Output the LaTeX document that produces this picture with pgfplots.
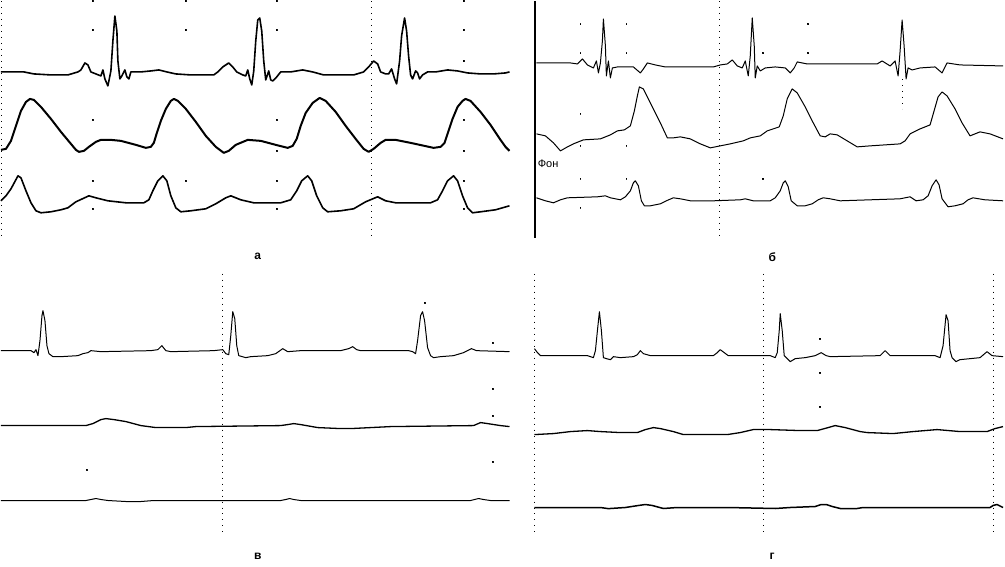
\documentclass[border=0pt]{standalone}
\usepackage{pgfplots}
\pgfplotsset{compat=1.18}
\usepackage{fontspec}
\setmainfont{Liberation Sans}
\begin{document}
\begin{tikzpicture}
\begin{axis}[
    width=502.5pt,
    height=281.5pt,
    scale only axis,
    xmin=0, xmax=1005,
    ymin=0, ymax=563,
    y dir=reverse,
    hide axis,
    clip=false,
    every axis plot/.append style={black, line join=round},
]

% grid (dotted verticals)
\pgfplotsset{gr/.style={black, line width=0.5pt, dash pattern=on 0.5pt off 2.5pt}}
\addplot[gr] coordinates {(1,0) (1,237)};
\addplot[gr] coordinates {(371,0) (371,237)};
\addplot[gr] coordinates {(719,0) (719,237)};
\addplot[gr] coordinates {(902,78) (902,108)};
\addplot[gr] coordinates {(222,273) (222,535)};
\addplot[gr] coordinates {(534,273) (534,535)};
\addplot[gr] coordinates {(763,273) (763,535)};
\addplot[gr] coordinates {(993,273) (993,535)};

% isolated grid dots
\addplot[only marks, mark=square*, mark size=0.22pt] coordinates {
    (92,0) (92,29) (92,119) (92,180) (92,208)
    (185,0) (185,29) (185,180)
    (276,0) (276,29) (276,119) (276,150) (276,180) (276,208)
    (463,0) (463,29) (463,60) (463,119) (463,150) (463,180) (463,208)
    (580,23) (580,52) (580,113) (580,145) (580,178) (580,207)
    (626,23) (626,52) (626,145) (626,178)
    (763,52) (763,178) (808,23) (808,52)
    (86,469) (424,302) (492,342) (492,388) (492,415) (492,461)
    (820,338) (820,372) (820,406)
};

% solid marker line, panel b
\addplot[line width=1pt] coordinates {(535,0) (535,237)};

% ---------- panel a ----------
\addplot[line width=0.8pt] coordinates {
(0,71) (10,71) (23,71) (33,73) (50,74) (67,74) (77,71) (80,69) (84,62) (87,64) (90,71) (95,73) (100,75) (102,69) (104,78) (107,85) (110,70) (112,40) (114,15) (116,30) (117,60) (119,78) (121,75) (124,69) (126,76) (128,78) (130,71) (140,71) (150,70) (158,69) (166,71) (175,73) (190,74) (213,74) (217,71) (222,66) (228,62) (232,66) (236,71) (242,74) (245,75) (247,69) (249,78) (251,84) (253,70) (255,40) (257,19) (259,17) (261,30) (263,60) (265,79) (268,70) (270,79) (272,80) (276,76) (280,71) (290,71) (302,69) (312,71) (323,74) (353,74) (363,71) (368,66) (373,60) (377,63) (380,71) (385,73) (388,73) (391,68) (394,78) (396,83) (399,60) (401,35) (404,17) (406,30) (408,55) (410,74) (412,78) (415,70) (417,72) (419,78) (422,74) (427,71) (435,71) (447,69) (457,70) (467,72) (480,73) (493,73) (505,72) (509,71)
};
\addplot[line width=1pt] coordinates {
(0,149) (5,148) (10,140) (15,125) (20,110) (25,101) (29,98) (33,99) (40,106) (50,118) (60,131) (70,143) (75,149) (78,151) (83,150) (88,146) (95,141) (100,139) (110,139) (120,140) (135,144) (145,147) (150,146) (153,142) (156,132) (160,120) (165,108) (170,100) (173,98) (177,100) (185,108) (195,121) (205,135) (215,146) (223,152) (228,150) (235,144) (247,139) (260,140) (275,144) (287,147) (292,145) (296,138) (300,125) (305,112) (312,102) (319,97) (325,100) (335,111) (345,125) (355,138) (363,148) (368,151) (373,148) (380,142) (385,139) (395,139) (410,142) (433,147) (440,146) (444,142) (448,130) (452,118) (457,106) (462,100) (465,98) (470,100) (480,111) (490,124) (500,139) (505,146) (509,150)
};
\addplot[line width=0.8pt] coordinates {
(0,200) (5,195) (10,188) (17,175) (20,177) (25,190) (30,202) (35,210) (40,212) (50,211) (60,209) (67,207) (75,201) (88,195) (95,197) (107,200) (125,202) (143,202) (148,199) (152,190) (157,180) (162,175) (166,180) (170,195) (175,207) (180,211) (190,210) (205,208) (215,203) (225,197) (230,195) (240,199) (253,202) (280,202) (290,199) (296,190) (301,180) (307,175) (311,180) (316,195) (322,207) (327,211) (340,210) (353,208) (365,201) (377,196) (385,200) (395,202) (430,202) (437,199) (442,190) (447,180) (453,175) (457,180) (462,195) (467,207) (472,212) (480,211) (495,209) (509,205)
};

% ---------- panel b ----------
\addplot[line width=0.5pt] coordinates {
(536,62) (570,62) (577,63) (582,58) (587,64) (593,67) (596,60) (598,72) (600,62) (602,40) (603,18) (605,45) (606,75) (608,60) (610,77) (612,67) (617,66) (633,66) (640,72) (643,68) (647,62) (655,64) (665,66) (700,66) (713,66) (720,64) (727,63) (732,59) (737,65) (742,67) (745,60) (748,75) (750,55) (752,17) (754,45) (755,77) (757,65) (760,70) (765,67) (775,66) (785,67) (790,72) (794,67) (797,61) (807,63) (877,63) (882,60) (890,65) (895,60) (898,75) (900,50) (902,19) (904,45) (906,78) (908,67) (912,69) (920,67) (935,66) (942,72) (945,66) (947,62) (960,64) (1003,65)
};
\addplot[line width=0.5pt] coordinates {
(536,133) (545,135) (553,142) (560,150) (567,146) (573,143) (583,139) (600,138) (610,134) (617,130) (624,129) (630,125) (634,110) (637,95) (639,86) (643,88) (650,102) (660,122) (667,137) (673,137) (680,136) (690,138) (700,143) (710,147) (720,145) (730,143) (743,140) (750,137) (760,135) (767,130) (773,128) (779,126) (783,115) (787,98) (792,88) (797,92) (805,106) (812,120) (820,135) (825,136) (830,133) (837,134) (847,140) (857,146) (870,145) (900,143) (905,140) (910,133) (920,128) (930,124) (934,110) (938,96) (942,91) (947,95) (955,108) (962,122) (970,135) (975,133) (980,131) (990,133) (1003,138)
};
\addplot[line width=0.5pt] coordinates {
(536,197) (545,200) (553,202) (560,199) (567,197) (597,196) (605,195) (610,197) (620,199) (625,196) (630,190) (633,182) (635,180) (638,185) (641,200) (644,205) (650,205) (660,203) (666,200) (673,197) (680,198) (690,200) (713,200) (740,199) (745,198) (753,200) (770,200) (775,197) (780,190) (783,182) (785,180) (788,186) (791,200) (797,205) (805,205) (812,203) (818,199) (823,197) (830,198) (840,200) (900,198) (910,196) (916,200) (923,199) (928,195) (932,185) (936,179) (939,184) (942,198) (948,206) (955,205) (963,203) (968,199) (973,197) (985,199) (1003,200)
};

% ---------- panel v ----------
\addplot[line width=0.5pt] coordinates {
(0,350) (30,350) (33,352) (35,349) (37,355) (39,340) (41,315) (42,310) (44,320) (46,345) (48,353) (52,356) (60,356) (77,355) (82,353) (87,352) (90,350) (100,351) (150,350) (157,349) (161,345) (165,350) (170,351) (213,350) (222,349) (225,353) (228,354) (230,335) (232,311) (234,318) (236,345) (238,355) (245,357) (250,356) (267,355) (275,353) (282,348) (287,351) (300,350) (340,350) (348,348) (352,346) (356,349) (360,350) (408,350) (412,351) (415,353) (417,340) (420,315) (422,311) (424,320) (427,347) (430,355) (433,357) (440,356) (453,355) (463,352) (471,348) (476,350) (509,351)
};
\addplot[line width=0.65pt] coordinates {
(0,425) (85,425) (92,423) (100,419) (105,418) (113,419) (125,421) (140,425) (155,427) (185,427) (195,426) (280,425) (287,424) (293,423) (300,424) (317,427) (340,428) (350,428) (390,426) (473,425) (480,422) (487,423) (500,425) (509,426)
};
\addplot[line width=0.5pt] coordinates {
(0,500) (85,500) (90,499) (95,498) (100,499) (107,500) (125,501) (140,501) (153,500) (280,500) (285,499) (289,498) (293,499) (300,500) (470,500) (474,499) (478,498) (483,499) (490,500) (509,500)
};

% ---------- panel g ----------
\addplot[line width=0.5pt] coordinates {
(534,348) (537,352) (540,355) (553,355) (587,355) (593,357) (595,350) (597,330) (599,311) (601,330) (603,357) (606,358) (610,359) (613,356) (620,357) (633,356) (637,354) (640,350) (643,353) (650,355) (713,355) (717,352) (720,349) (724,352) (728,355) (770,355) (775,357) (777,352) (779,330) (780,313) (782,330) (784,355) (787,358) (790,361) (795,358) (805,357) (815,355) (821,352) (826,355) (830,356) (880,355) (885,350) (890,355) (935,355) (940,357) (943,345) (946,314) (948,320) (950,350) (952,357) (956,361) (960,359) (970,358) (980,357) (987,351) (992,355) (1003,356)
};
\addplot[line width=0.65pt] coordinates {
(534,434) (553,433) (570,431) (587,430) (600,431) (620,432) (637,432) (645,429) (653,427) (660,428) (673,431) (683,434) (727,434) (740,432) (753,429) (770,429) (800,430) (817,430) (828,427) (835,425) (845,427) (860,431) (867,432) (893,433) (913,431) (937,429) (960,431) (987,431) (995,428) (1003,426)
};
\addplot[line width=0.75pt] coordinates {
(534,507) (560,507) (600,507) (607,508) (610,508) (625,507) (638,505) (645,504) (652,505) (663,508) (677,507) (727,507) (775,508) (790,507) (815,506) (821,504) (826,504) (832,506) (840,508) (857,508) (863,507) (990,507) (993,505) (997,504) (1003,507)
};

% labels
\node[font=\fontsize{6}{7}\selectfont\bfseries] at (axis cs:257,256) {а};
\node[font=\fontsize{6}{7}\selectfont\bfseries] at (axis cs:772,256) {б};
\node[font=\fontsize{6}{7}\selectfont\bfseries] at (axis cs:257,556) {в};
\node[font=\fontsize{6}{7}\selectfont\bfseries] at (axis cs:772,556) {г};
\node[font=\fontsize{5.5}{6}\selectfont, anchor=west, inner sep=0pt] at (axis cs:537,163) {Фон};
\end{axis}
\path (current axis.south west) rectangle (current axis.north east);
\end{tikzpicture}
\end{document}
